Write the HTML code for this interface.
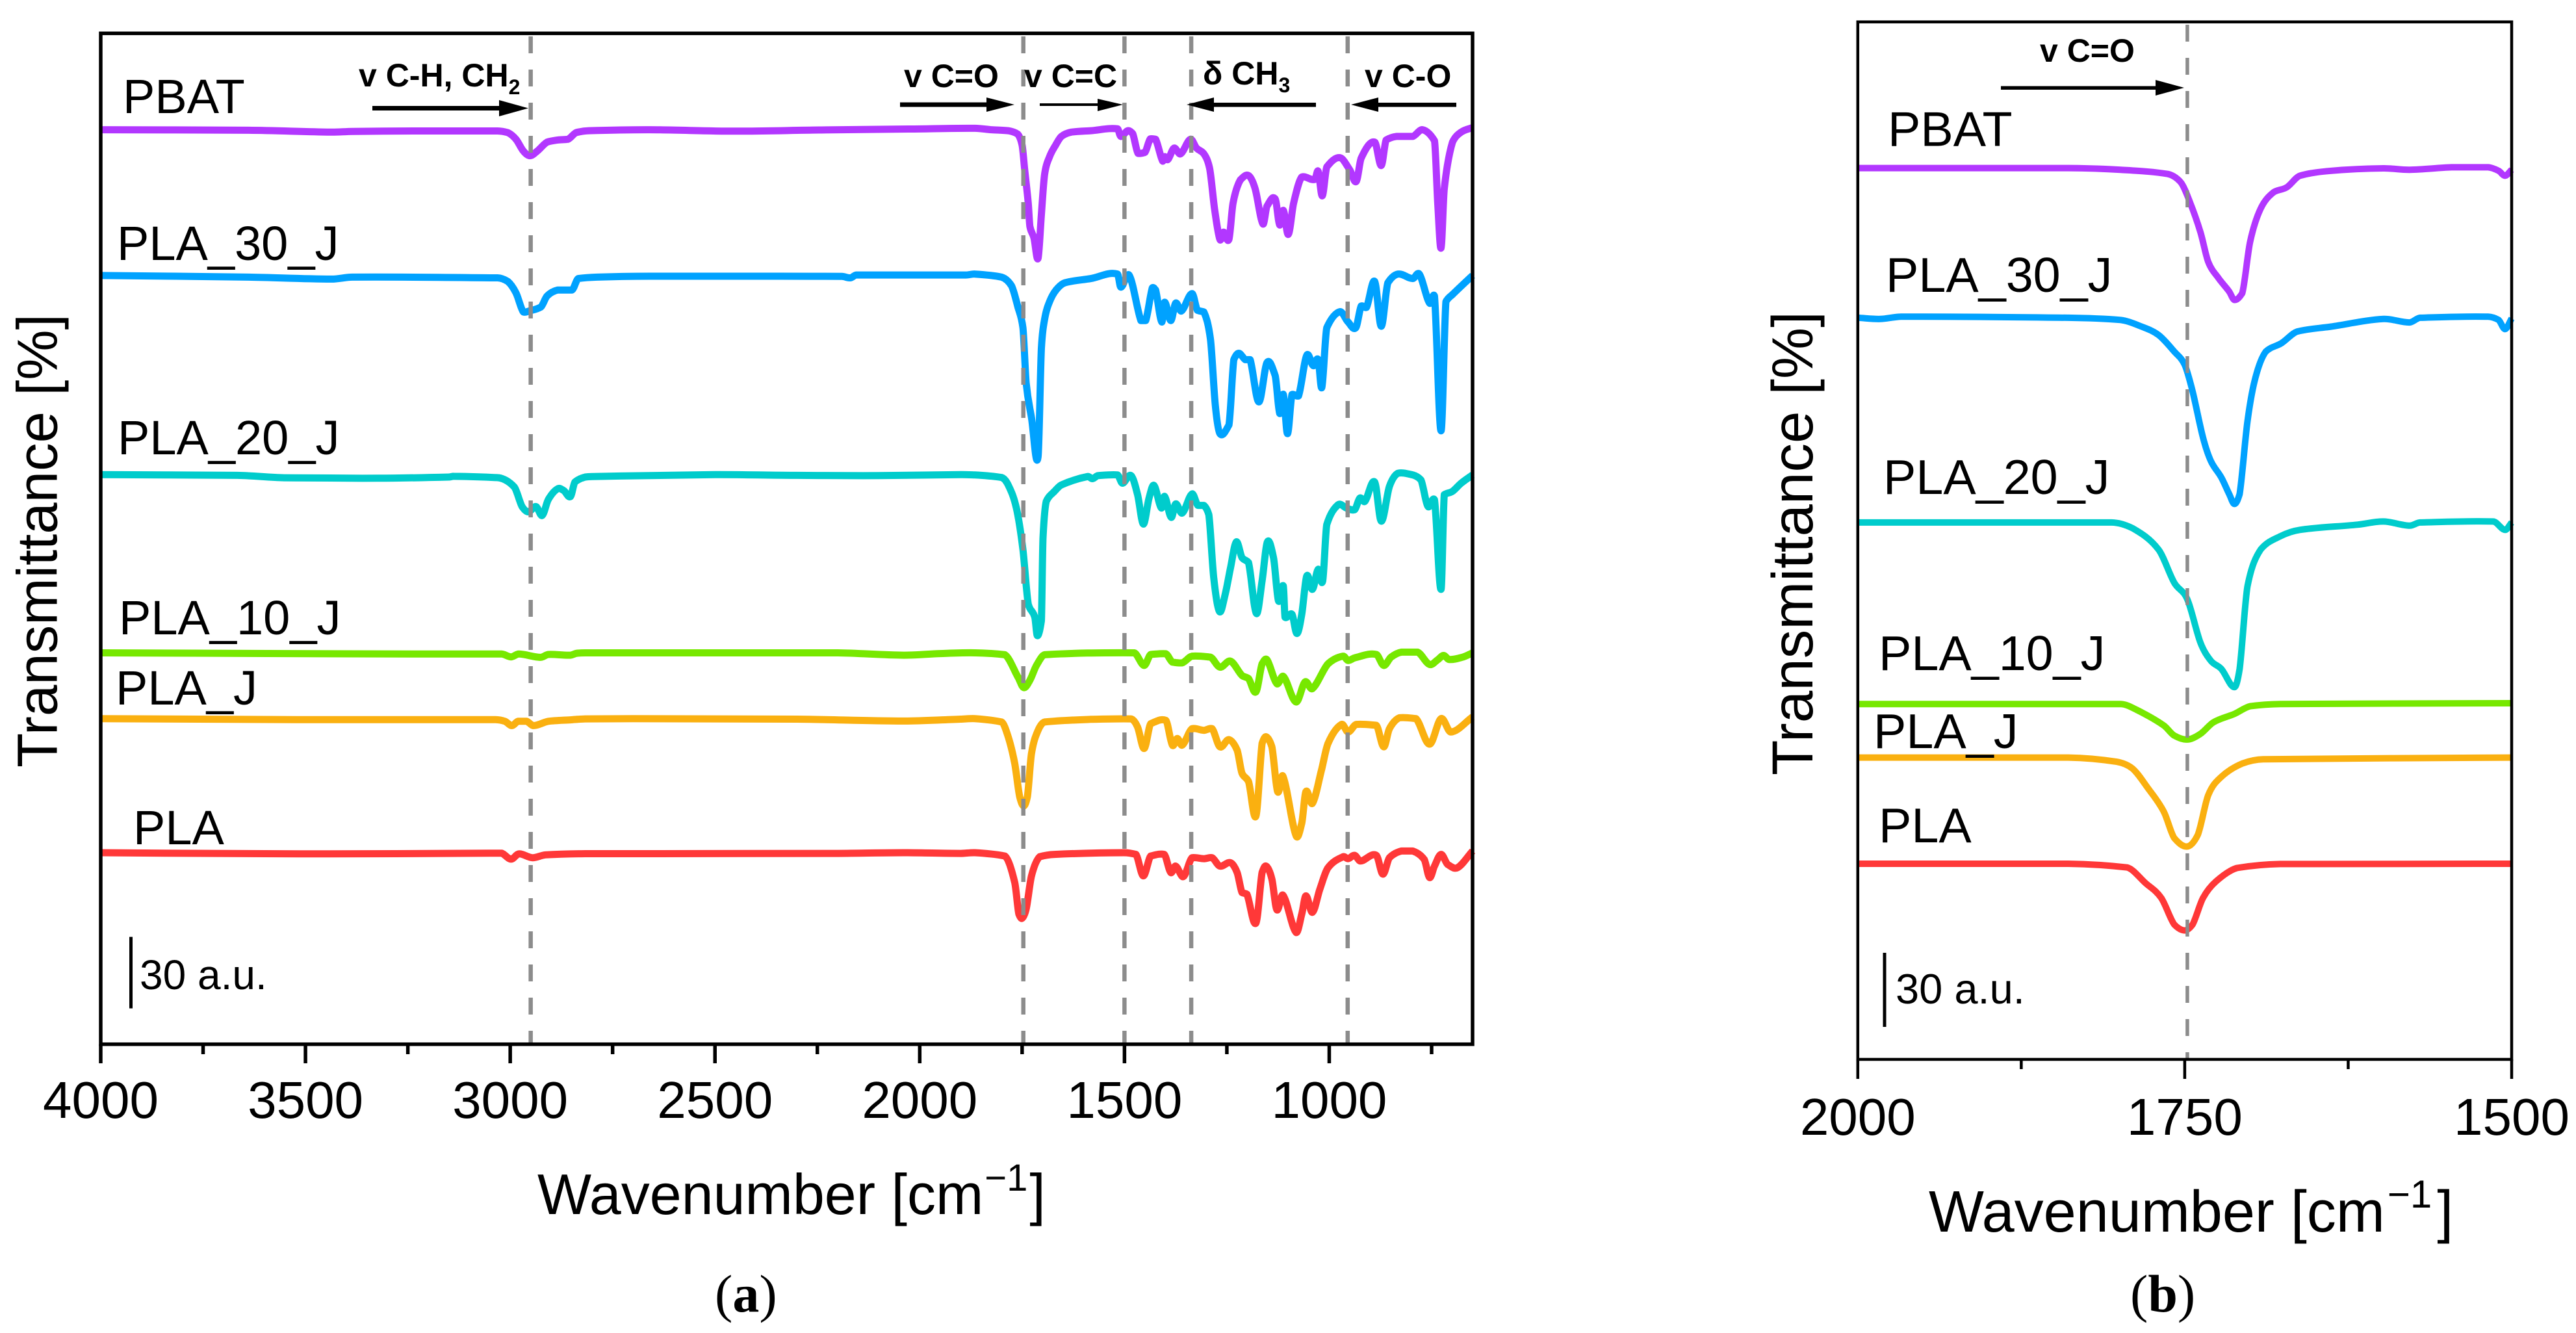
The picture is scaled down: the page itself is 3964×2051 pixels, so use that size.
<!DOCTYPE html>
<html lang="en">
<head>
<meta charset="utf-8">
<title>FTIR spectra of PLA and PBAT blends</title>
<style>
html,body{margin:0;padding:0;background:#fff;width:3964px;height:2051px;overflow:hidden}
svg{display:block}
text{font-family:"Liberation Sans",Arial,sans-serif;fill:#000}
.lbl{font-size:74px}
.lblb{font-size:75.5px}
.note{font-size:50px;font-weight:bold}
.title{font-size:88px}
.cap{font-family:"Liberation Serif",serif;font-size:82px}
</style>
</head>
<body>
<svg id="chart" xmlns="http://www.w3.org/2000/svg" width="3964" height="2051" viewBox="0 0 3964 2051">
  <rect x="0" y="0" width="3964" height="2051" fill="#fff"/>
  <g id="panelA"></g>
  <g id="panelB"></g>

  <g>
    <text class="lbl" x="189" y="174">PBAT</text>
    <text class="lbl" x="180" y="400">PLA_30_J</text>
    <text class="lbl" x="181" y="699">PLA_20_J</text>
    <text class="lbl" x="183" y="976">PLA_10_J</text>
    <text class="lbl" x="178" y="1084">PLA_J</text>
    <text class="lbl" x="205" y="1299">PLA</text>

    <text class="note" x="552" y="133">v C-H, CH<tspan font-size="32" dy="12">2</tspan></text>
    <text class="note" x="1391" y="134">v C=O</text>
    <text class="note" x="1576" y="134">v C=C</text>
    <text class="note" x="1851" y="130">δ CH<tspan font-size="32" dy="12">3</tspan></text>
    <text class="note" x="2100" y="134">v C-O</text>

    <g><rect x="573" y="163" width="200" height="7"/><polygon points="768,154 813,166.5 768,179"/></g>
    <g><rect x="1385" y="157.5" width="140" height="7"/><polygon points="1518,150 1561,161 1518,172"/></g>
    <g><rect x="1600" y="159" width="92" height="4"/><polygon points="1689,152 1728,161 1689,171"/></g>
    <g><rect x="1860" y="158" width="165" height="6.500"/><polygon points="1868,150 1826,161 1868,172"/></g>
    <g><rect x="2115" y="158" width="126" height="6.500"/><polygon points="2121,150 2079,161 2121,172"/></g>

    <rect x="199" y="1441.500" width="5" height="110"/>
    <text x="215" y="1522" font-size="64">30 a.u.</text>

    <text class="title" x="87.500" y="1181" font-size="87" transform="rotate(-90 87.500 1181)" style="font-size:87px">Transmittance [%]</text>
    <text class="title" x="827" y="1868">Wavenumber [cm<tspan font-size="58" dy="-36" dx="2">−1</tspan><tspan dy="36" dx="3">]</tspan></text>
    <text class="cap" x="1100" y="2018">(<tspan font-weight="bold">a</tspan>)</text>
  </g>

  <g>
    <text class="lblb" x="2905" y="224.500">PBAT</text>
    <text class="lblb" x="2902" y="449">PLA_30_J</text>
    <text class="lblb" x="2898" y="760">PLA_20_J</text>
    <text class="lblb" x="2891" y="1031">PLA_10_J</text>
    <text class="lblb" x="2883" y="1151">PLA_J</text>
    <text class="lblb" x="2891" y="1296">PLA</text>

    <text class="note" x="3139" y="95">v C=O</text>
    <g><rect x="3079" y="132.500" width="245" height="5.500"/><polygon points="3317,123 3361,135 3317,147"/></g>

    <rect x="2897.500" y="1466" width="5" height="114"/>
    <text x="2917" y="1544" font-size="65">30 a.u.</text>

    <text x="2789" y="1193" font-size="89" transform="rotate(-90 2789 1193)">Transmittance [%]</text>
    <text x="2968" y="1895" font-size="90">Wavenumber [cm<tspan font-size="60" dy="-37" dx="4">−1</tspan><tspan dy="37" dx="8">]</tspan></text>
    <text class="cap" x="3278" y="2018">(<tspan font-weight="bold">b</tspan>)</text>
  </g>
</svg>

<script>
// ---------- Panel (a): full spectrum, wavenumbers in cm-1, transmittance change in a.u. ----------
const seriesNames = ['PBAT','PLA_30_J','PLA_20_J','PLA_10_J','PLA_J','PLA'];
const seriesColors = ['#B237FF','#00A2FF','#00CCCC','#77E800','#FAB010','#FF3838'];
const ticksMajorA = [4000,3500,3000,2500,2000,1500,1000];
const ticksMinorA = [3750,3250,2750,2250,1750,1250,750];
const ticksMajorB = [2000,1750,1500];
const ticksMinorB = [1875,1625];
const peakLinesA = [2950,1747,1500,1337,955];
const peakLinesB = [1748];
const offsetsA = [383.4,322.5,239,164.1,136.5,80.3];
const offsetsB = [360.9,300.3,217.4,143.9,122.2,79.2];

const wnA_PBAT = [4000,3639,3436,3386,3234,3031,3006,2986,2968,2952,2935,2910,2884,2859,2839,2808,2659,2452,2246,2024,1865,1825,1784,1761,1750,1744,1735,1731,1721,1711,1703,1695,1683,1668,1654,1630,1582,1517,1509,1492,1480,1467,1450,1437,1424,1407,1402,1394,1379,1363,1339,1324,1306,1292,1280,1267,1258,1245,1235,1217,1197,1181,1162,1152,1132,1121,1112,1100,1087,1067,1035,1027,1017,1006,974,950,934,922,889,873,861,836,796,772,743,735,727,719,699,678,650];
const tA_PBAT = [0,-0.2,-1,-0.7,-0.5,-0.5,-1.2,-4,-8.9,-10.9,-9.1,-5.2,-4.3,-4,-1.2,-0.4,0,-0.6,-0.1,0.3,0.6,0,-0.4,-1.8,-6.4,-16.2,-30.8,-40.5,-45.4,-53.9,-35.6,-18.6,-11.3,-6.4,-2.8,-1,-0.4,0.4,-2.8,-0.4,-1.6,-9.9,-9.5,-3.8,-4,-13.1,-11.3,-12.5,-7.7,-10.1,-4,-7.7,-10.1,-16.2,-33.2,-46,-42.9,-46,-30.8,-21,-19.2,-24.7,-39.5,-32,-29,-39.9,-33.8,-43.9,-30.8,-19.8,-20.8,-17.4,-27.7,-15.6,-11.7,-16.8,-21.7,-11.9,-5.2,-15,-4.3,-2.8,-2.8,0,-4.6,-30.8,-49.6,-24.7,-5.2,-1,0.9];

const wnA_30J = [4000,3639,3436,3386,3031,3006,2986,2968,2952,2925,2910,2884,2849,2834,2788,2659,2341,2190,2169,2155,1887,1865,1800,1776,1760,1748,1740,1727,1711,1703,1695,1683,1667,1646,1582,1517,1509,1488,1460,1448,1432,1424,1409,1402,1387,1375,1361,1335,1322,1306,1290,1278,1267,1245,1233,1221,1205,1193,1172,1152,1132,1121,1112,1102,1091,1075,1055,1039,1027,1018,1006,974,954,935,922,909,889,873,857,832,796,780,755,743,727,715,699,650];
const tA_30J = [-0.2,-0.9,-1.7,-0.9,-1.2,-2.7,-7.5,-15.5,-15,-13.4,-8.8,-6.3,-6.3,-1.5,-0.9,-0.5,-0.5,-0.6,-1.2,0,0,0.4,-0.9,-4.5,-13.6,-22.1,-45.3,-59.9,-76.2,-30.7,-18.5,-11.2,-6.3,-3.3,-1.5,0.4,-5.1,-0.2,-19.1,-19.1,-5.4,-6.3,-19.7,-11.4,-19.1,-11.8,-15.1,-7.8,-14.8,-15.5,-27,-55,-66.5,-62.9,-35.5,-32.8,-35.5,-35.5,-53.2,-36.7,-42.2,-58,-50.1,-66.5,-50.1,-50.7,-33.7,-38,-35.5,-47.1,-22.1,-15.4,-19.7,-22.1,-13,-13.6,-2.7,-21.5,-3.3,0.4,-1.5,0.4,-11.8,-8.8,-65.3,-11.2,-8.2,-0.2];

const wnA_20J = [4000,3666,3552,3324,3150,3138,3028,2990,2971,2956,2937,2922,2907,2884,2869,2853,2842,2817,2800,2500,2300,2100,1900,1865,1800,1784,1764,1748,1735,1719,1713,1703,1699,1691,1671,1654,1590,1578,1565,1517,1505,1484,1468,1454,1440,1428,1410,1402,1386,1375,1359,1335,1321,1306,1294,1282,1268,1254,1241,1227,1213,1197,1178,1164,1151,1136,1124,1112,1108,1091,1079,1067,1055,1041,1027,1016,1006,978,958,938,925,913,889,873,853,832,796,776,759,743,727,719,699,678,650];
const tA_20J = [-0.2,-0.5,-1.5,-1.7,-1.2,-0.9,-1.5,-5.4,-13.6,-15.8,-13.6,-17.3,-10.6,-6.1,-6.9,-9.4,-3.3,-1.2,-1,-0.2,-0.5,-0.6,-0.2,-0.3,-1.4,-4.5,-14.2,-31.6,-54.5,-60,-67.7,-61.5,-26.7,-11.4,-7.2,-4.5,-1,-1.9,-0.6,-0.3,-3.8,-0.6,-8.6,-20.9,-10,-4.7,-14.2,-9.3,-18.1,-12.5,-16.3,-8.3,-13.1,-13.1,-17,-43.4,-57.6,-50.3,-39.2,-28.4,-35,-37.1,-58.4,-44.8,-28.4,-35,-53.1,-46.9,-60,-58.7,-66.8,-58.7,-42.7,-48.3,-39.9,-44.8,-21.1,-12.8,-14.2,-14.9,-10,-11.4,-3.3,-19.7,-5.1,0.4,-0.3,-2.4,-13.5,-10.7,-48.3,-8.6,-7.2,-3.8,-0.3];

const wnA_10J = [4000,3545,3211,3021,2998,2979,2926,2907,2853,2838,2817,2500,2200,2040,1950,1865,1792,1760,1746,1731,1715,1695,1590,1476,1452,1436,1399,1383,1359,1335,1290,1267,1241,1213,1197,1179,1164,1152,1128,1112,1081,1059,1041,1003,966,954,938,885,867,849,824,784,755,735,721,707,674,650];
const tA_10J = [0,-0.3,-0.5,-0.5,-1.7,-0.5,-1.9,-0.7,-1,-0.2,0,0,0,-1,-0.3,0,-0.8,-10.2,-14.6,-11.5,-5.3,-0.8,-0.1,0,-5.3,-0.7,-0.4,-3.9,-4.2,-1.4,-1.8,-6,-3.5,-9.5,-10.8,-16.4,-4.6,-2.9,-12.9,-9.9,-20.6,-12.2,-15,-4.6,-1.4,-3.2,-2.1,-0.7,-5.3,-1.8,0.3,0.3,-4.9,-2.9,-1.1,-2.8,-1.8,0];

const wnA_J = [4000,3522,3036,3013,2996,2981,2960,2943,2907,2853,2817,2700,2300,2040,1900,1865,1800,1784,1768,1756,1746,1737,1727,1711,1695,1582,1484,1468,1452,1436,1399,1383,1371,1359,1335,1306,1286,1267,1245,1225,1213,1197,1179,1164,1154,1140,1126,1113,1081,1067,1057,1041,1019,1003,970,954,934,885,867,853,828,788,755,727,703,650];
const tA_J = [0,-0.4,-0.4,-1.1,-2.9,-1.1,-1.1,-2.9,-1.1,-0.5,-0.1,0,-0.2,-1,-0.2,0,-1.4,-7.6,-18.8,-32.7,-36.6,-32.7,-14.6,-4.9,-1.4,-0.3,-0.1,-3.5,-12.5,-2.1,-0.7,-11.1,-8.3,-11.1,-4.2,-4.9,-4.2,-11.8,-8.8,-13.2,-22.9,-26.4,-40.8,-10.4,-7.6,-11.8,-30.6,-24.1,-49.1,-43.8,-30.6,-35.5,-21.6,-10.4,-2.4,-5.6,-2.4,-2.8,-11.8,-4.2,0.4,0,-10.7,0,-5.6,0.7];

const wnA_PLA = [4000,3514,3051,3021,2998,2979,2946,2914,2817,2700,2200,2040,1900,1865,1792,1768,1758,1750,1740,1727,1707,1671,1501,1472,1454,1436,1403,1387,1375,1356,1335,1306,1286,1267,1241,1225,1213,1201,1179,1164,1154,1140,1128,1113,1081,1067,1057,1041,1023,1003,966,954,938,924,885,869,853,824,796,768,755,743,727,711,687,650];
const tA_PLA = [0,-0.5,-0.2,-0.2,-2.7,-0.5,-2.1,-0.9,-0.4,-0.4,-0.3,0,-0.3,0,-1.4,-12.5,-25.7,-27.5,-23.6,-9.7,-1.7,-0.7,0,-0.7,-9.7,-1.4,-0.7,-8.3,-5.6,-10,-2.1,-2.5,-2.1,-5.6,-4.2,-8.3,-16.7,-17.4,-29.5,-8.3,-5.6,-11.1,-23.9,-17.8,-33.4,-25.7,-18.1,-25,-15.3,-6.3,-1.7,-2.5,-1.1,-3.5,-1.1,-9,-2.1,0.7,0.7,-2.8,-10.4,-5.6,-0.7,-4.9,-6.3,0.7];

// ---------- Panel (b): carbonyl region ----------
const wnB_PBAT = [2000,1839,1799,1763,1753,1746,1738,1732,1724,1716,1712,1706,1700,1692,1682,1672,1662,1638,1598,1578,1546,1518,1510,1505,1500];
const tB_PBAT = [0,0,-0.7,-2.4,-5.8,-13.8,-25.9,-38,-44.7,-50,-53.4,-50.7,-29.9,-16.5,-9.8,-7.8,-3.1,-1.1,-0.1,-0.7,0.3,0.3,-1.1,-3.1,-0.7];

const wnB_30J = [2000,1983,1967,1839,1799,1783,1770,1758,1750,1744,1736,1730,1722,1716,1712,1708,1702,1696,1688,1676,1664,1638,1598,1578,1570,1518,1510,1505,1500];
const tB_30J = [0,-0.5,0.4,0,-0.9,-3.6,-7,-13.7,-19.1,-29.8,-48.6,-58,-64.7,-71.4,-75.4,-71.4,-41.9,-24.4,-13.7,-10.3,-5.6,-3.6,-0.5,-1.9,0,0.4,-0.9,-4.6,-0.3];

const wnB_20J = [2000,1806,1790,1770,1758,1748,1738,1730,1722,1712,1708,1702,1692,1677,1662,1618,1598,1578,1570,1514,1505,1500];
const tB_20J = [0,0,-2.3,-11,-24.4,-31.1,-48.6,-56,-59.3,-66.7,-59.3,-25.8,-11,-5.6,-3,-0.9,0.4,-1.3,0,0.4,-3,0];

const wnB_10J = [2000,1799,1787,1766,1758,1748,1738,1728,1712,1700,1677,1500];
const tB_10J = [0,0,-2.3,-8.7,-12.8,-14.4,-12.1,-7.4,-4,-0.9,0,0.3];

const wnB_J = [2000,1839,1802,1790,1778,1766,1758,1748,1740,1732,1722,1706,1690,1500];
const tB_J = [0,0,-1.7,-4.4,-12.5,-21.9,-32.6,-36,-31.3,-15.2,-7.8,-2.4,-0.7,0];

const wnB_PLA = [2000,1839,1794,1780,1768,1758,1750,1744,1736,1726,1710,1677,1500];
const tB_PLA = [0,0,-1.5,-7.8,-13.8,-24.6,-27,-24.6,-13.8,-7.1,-1.7,-0.1,0];

const seriesWnA = [wnA_PBAT,wnA_30J,wnA_20J,wnA_10J,wnA_J,wnA_PLA];
const seriesTA = [tA_PBAT,tA_30J,tA_20J,tA_10J,tA_J,tA_PLA];
const seriesWnB = [wnB_PBAT,wnB_30J,wnB_20J,wnB_10J,wnB_J,wnB_PLA];
const seriesTB = [tB_PBAT,tB_30J,tB_20J,tB_10J,tB_J,tB_PLA];

const SVG_NS = 'http://www.w3.org/2000/svg';

// Rounded path through the traced points; tangents are clamped so long flat runs do not overshoot.
function smoothPath(xs, ys) {
  let d = 'M' + xs[0].toFixed(1) + ' ' + ys[0].toFixed(1);
  for (let i = 0; i < xs.length - 1; i++) {
    const p = Math.max(i - 1, 0), n = Math.min(i + 2, xs.length - 1);
    const dx = xs[i + 1] - xs[i];
    const k1 = (ys[i + 1] - ys[p]) / Math.max(xs[i + 1] - xs[p], 1);
    const k2 = (ys[n] - ys[i]) / Math.max(xs[n] - xs[i], 1);
    const h = dx / 3;
    const dy = ys[i + 1] - ys[i];
    const lim = Math.abs(dy) * 0.6;
    const c1 = Math.max(-lim, Math.min(lim, k1 * h));
    const c2 = Math.max(-lim, Math.min(lim, k2 * h));
    d += 'C' + (xs[i] + h).toFixed(1) + ' ' + (ys[i] + c1).toFixed(1) + ' ' +
         (xs[i + 1] - h).toFixed(1) + ' ' + (ys[i + 1] - c2).toFixed(1) + ' ' +
         xs[i + 1].toFixed(1) + ' ' + ys[i + 1].toFixed(1);
  }
  return d;
}

function drawPanel(cfg) {
  const host = document.getElementById(cfg.host);
  const L = cfg.left, R = cfg.right, T = cfg.top, B = cfg.bottom;
  const xScale = function (wn) { return L + (cfg.wnMax - wn) * (R - L) / (cfg.wnMax - cfg.wnMin); };
  const yScale = function (v) { return B - v * cfg.pxPerAu; };

  // series
  cfg.wns.forEach(function (wns, i) {
    const vals = cfg.vals[i];
    const off = cfg.offsets[i];
    const xs = wns.map(xScale);
    const ys = vals.map(function (v) { return yScale(off + v); });
    const p = document.createElementNS(SVG_NS, 'path');
    p.setAttribute('d', smoothPath(xs, ys));
    p.setAttribute('fill', 'none');
    p.setAttribute('stroke', seriesColors[i]);
    p.setAttribute('stroke-width', cfg.lineWidth);
    p.setAttribute('stroke-linejoin', 'round');
    
    
    host.appendChild(p);
  });

  // dashed reference lines
  cfg.peaks.forEach(function (w) {
    const l = document.createElementNS(SVG_NS, 'line');
    l.setAttribute('x1', xScale(w));
    l.setAttribute('x2', xScale(w));
    l.setAttribute('y1', cfg.dashTop);
    l.setAttribute('y2', B);
    l.setAttribute('stroke', '#8c8c8c');
    l.setAttribute('stroke-width', cfg.dashWidth);
    l.setAttribute('stroke-dasharray', '26 25');
    
    
    host.appendChild(l);
  });

  // frame
  const frame = document.createElementNS(SVG_NS, 'rect');
  frame.setAttribute('x', L);
  frame.setAttribute('y', T);
  frame.setAttribute('width', R - L);
  frame.setAttribute('height', B - T);
  frame.setAttribute('fill', 'none');
  frame.setAttribute('stroke', '#000');
  frame.setAttribute('stroke-width', cfg.axisWidth);
  
  
  host.appendChild(frame);

  // major ticks with labels
  cfg.major.forEach(function (w) {
    const t = document.createElementNS(SVG_NS, 'line');
    t.setAttribute('x1', xScale(w));
    t.setAttribute('x2', xScale(w));
    t.setAttribute('y1', B);
    t.setAttribute('y2', cfg.majorEnd);
    t.setAttribute('stroke', '#000');
    t.setAttribute('stroke-width', cfg.axisWidth);
    
    
    host.appendChild(t);

    const lab = document.createElementNS(SVG_NS, 'text');
    lab.setAttribute('x', xScale(w));
    lab.setAttribute('y', cfg.labelBase);
    lab.setAttribute('text-anchor', 'middle');
    lab.setAttribute('font-size', '80');
    
    
    lab.textContent = String(w);
    host.appendChild(lab);
  });

  // minor ticks
  cfg.minor.forEach(function (w) {
    const t = document.createElementNS(SVG_NS, 'line');
    t.setAttribute('x1', xScale(w));
    t.setAttribute('x2', xScale(w));
    t.setAttribute('y1', B);
    t.setAttribute('y2', cfg.minorEnd);
    t.setAttribute('stroke', '#000');
    t.setAttribute('stroke-width', cfg.axisWidth);
    
    
    host.appendChild(t);
  });
}

drawPanel({
  host: 'panelA', tag: 'a',
  left: 155, right: 2266, top: 51.3, bottom: 1606.7,
  wnMax: 4000, wnMin: 650, pxPerAu: 3.67,
  wns: seriesWnA, vals: seriesTA, offsets: offsetsA, peaks: peakLinesA,
  major: ticksMajorA, minor: ticksMinorA,
  majorEnd: 1636, minorEnd: 1622, labelBase: 1720,
  lineWidth: 11, axisWidth: 5.5, dashTop: 56, dashWidth: 6.5
});

drawPanel({
  host: 'panelB', tag: 'b',
  left: 2858.8, right: 3865, top: 33.7, bottom: 1630,
  wnMax: 2000, wnMin: 1500, pxPerAu: 3.8,
  wns: seriesWnB, vals: seriesTB, offsets: offsetsB, peaks: peakLinesB,
  major: ticksMajorB, minor: ticksMinorB,
  majorEnd: 1660, minorEnd: 1645, labelBase: 1746,
  lineWidth: 10, axisWidth: 4.5, dashTop: 38, dashWidth: 5.5
});
</script>
</body>
</html>
